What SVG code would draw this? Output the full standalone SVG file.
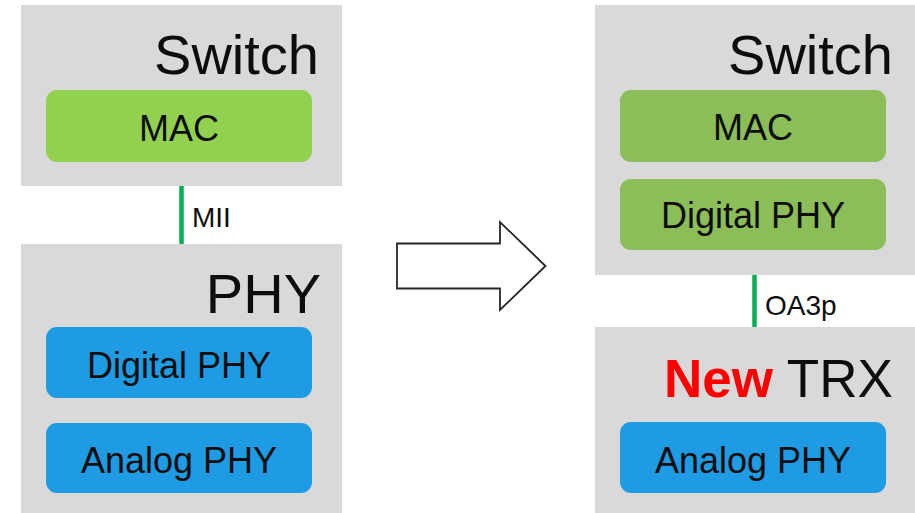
<svg xmlns="http://www.w3.org/2000/svg" width="915" height="513" viewBox="0 0 915 513">
<style>
.cont{fill:#D9D9D9}
.green1{fill:#92D050}
.green2{fill:#8BBD58}
.blue{fill:#1E9BE3}
text{font-family:"Liberation Sans",Arial,sans-serif;fill:#0D0D0D}
.big{font-size:56px;text-anchor:end}
.mid{font-size:36px;text-anchor:middle}
.small{font-size:28px}
.link{stroke:#00B050;stroke-width:4.5}
</style>
<rect width="915" height="513" fill="#FFFFFF"/>
<g id="left-switch">
<rect class="cont" x="21" y="5" width="321" height="181"/>
<text class="big" x="319" y="74">Switch</text>
</g>
<g id="left-mac">
<rect class="green1" x="46" y="90" width="266" height="72" rx="11"/>
<text class="mid" x="179" y="141">MAC</text>
</g>
<g id="left-phy">
<rect class="cont" x="21" y="244" width="321" height="269"/>
<text class="big" x="321" y="313">PHY</text>
</g>
<g id="left-digital-phy">
<rect class="blue" x="46" y="327" width="266" height="71" rx="11"/>
<text class="mid" x="179" y="378">Digital PHY</text>
</g>
<g id="left-analog-phy">
<rect class="blue" x="46" y="423" width="266" height="70" rx="11"/>
<text class="mid" x="179" y="473">Analog PHY</text>
</g>
<g id="right-switch">
<rect class="cont" x="595" y="5" width="320" height="270"/>
<text class="big" x="893" y="74">Switch</text>
</g>
<g id="right-mac">
<rect class="green2" x="620" y="90" width="266" height="72" rx="11"/>
<text class="mid" x="753" y="140">MAC</text>
</g>
<g id="right-digital-phy">
<rect class="green2" x="620" y="179" width="266" height="71" rx="11"/>
<text class="mid" x="753" y="228">Digital PHY</text>
</g>
<g id="right-new-trx">
<rect class="cont" x="595" y="327" width="320" height="186"/>
<text font-size="53px" x="664" y="397"><tspan fill="#FF0000" font-weight="bold">New</tspan> TRX</text>
</g>
<g id="right-analog-phy">
<rect class="blue" x="620" y="422" width="266" height="71" rx="11"/>
<text class="mid" x="753" y="473">Analog PHY</text>
</g>
<g id="connectors">
<line class="link" x1="181.5" y1="186" x2="181.5" y2="244"/>
<text class="small" x="192" y="227">MII</text>
<line class="link" x1="754.5" y1="275" x2="754.5" y2="327"/>
<text class="small" x="765" y="315">OA3p</text>
<polygon points="397,243.5 500,243.5 500,222 545.5,266 500,310 500,288.5 397,288.5" fill="#FFFFFF" stroke="#262626" stroke-width="1.8" stroke-linejoin="miter"/>
</g>
</svg>
